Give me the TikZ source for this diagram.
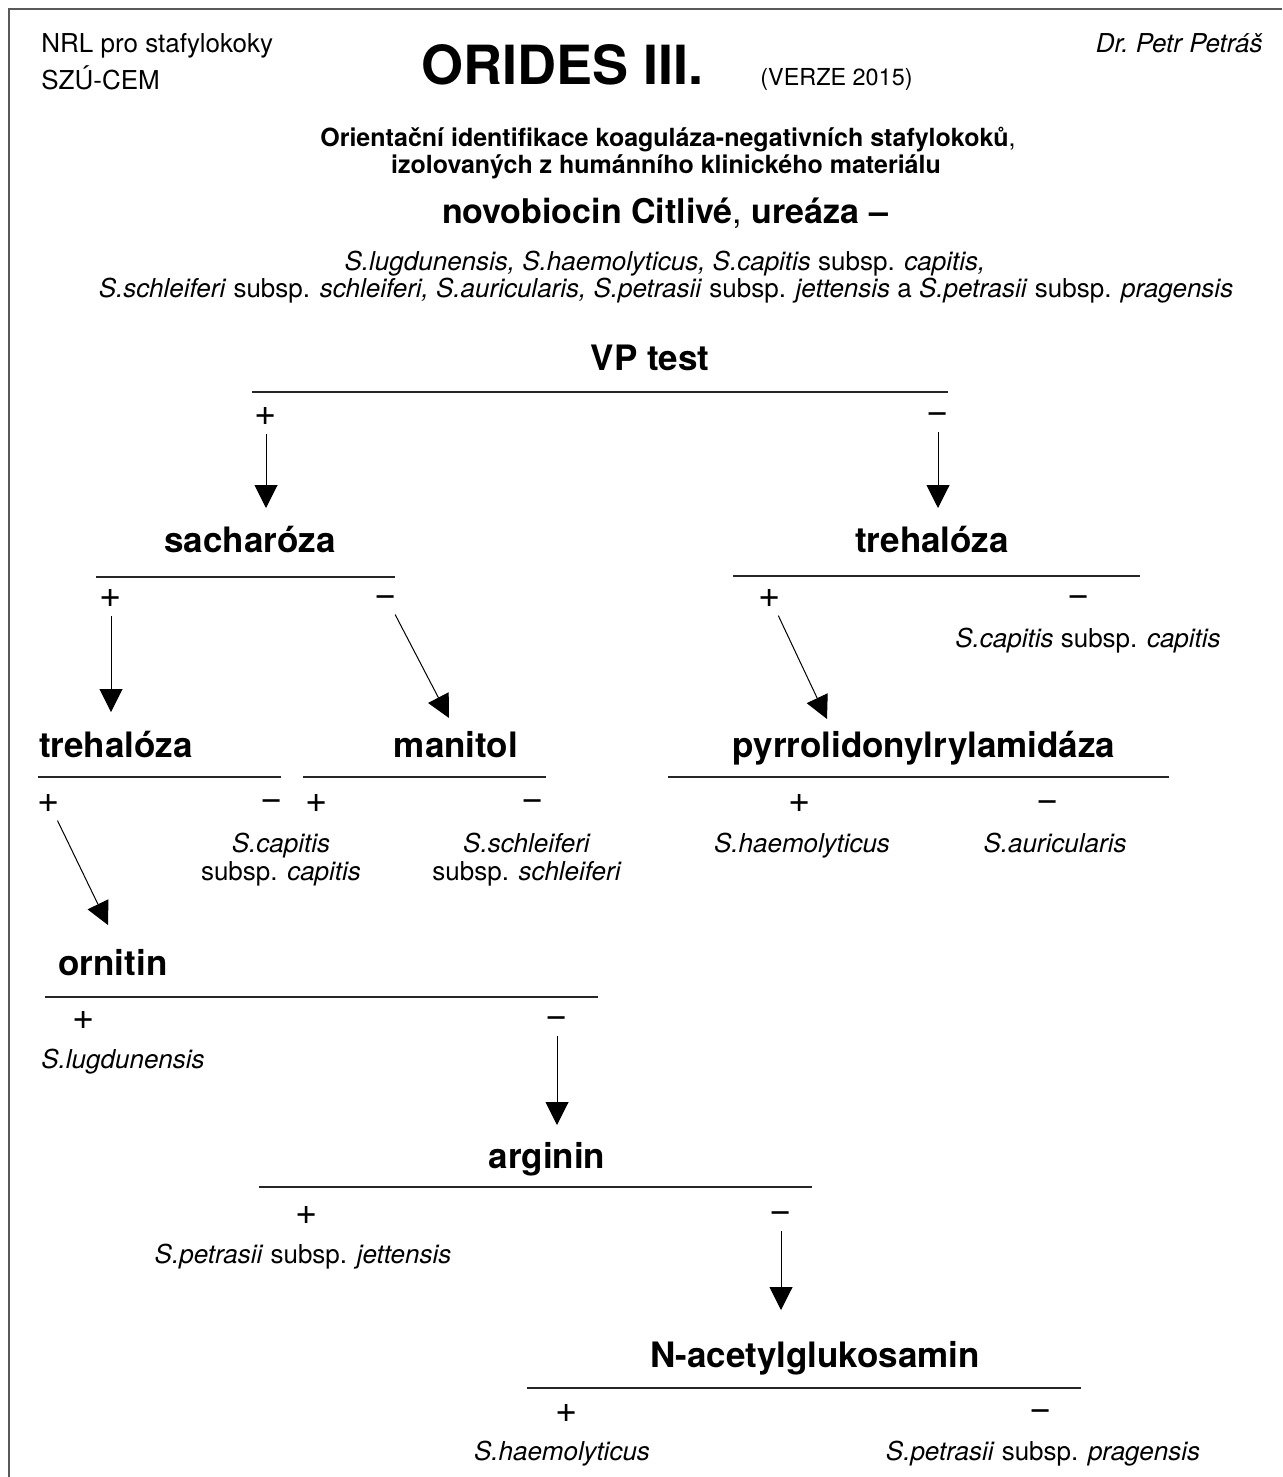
\documentclass[tikz,border=0pt]{standalone}
\usepackage{fontspec}
\setmainfont{TeX Gyre Heros}
\usetikzlibrary{arrows.meta}
\definecolor{FrameClr}{rgb}{0.35,0.35,0.35}
\definecolor{RuleClr}{rgb}{0.15,0.15,0.15}

\begin{document}
\begin{tikzpicture}[x=0.5pt,y=-0.5pt,
  txt/.style={font=\fontsize{13}{15}\selectfont,inner sep=0pt,anchor=base},
  test/.style={font=\fontsize{17.5}{21}\selectfont\bfseries,inner sep=0pt,anchor=base},
  sgn/.style={font=\fontsize{19}{21}\selectfont,inner sep=2pt,text height=9.6pt,text depth=0pt},
  rule/.style={line width=0.75pt,color=RuleClr},
  arr/.style={-{Triangle[length=11.5pt,width=11.5pt]},line width=0.5pt,shorten <=2pt}]
\useasboundingbox (0,0) rectangle (1282,1477);
\draw[line width=1.2pt,FrameClr] (9,1477) -- (9,9) -- (1282,9);

\node[txt,anchor=base west] (nrl) at (41,53) {NRL pro stafylokoky};
\node[txt,anchor=base west] (szu) at (41,90) {SZÚ-CEM};
\node[font=\fontsize{27}{30}\selectfont\bfseries,inner sep=0pt,anchor=base west] (title) at (421,85) {ORIDES III.};
\node[font=\fontsize{11.7}{14}\selectfont,inner sep=0pt,anchor=base west] (verze) at (760,86) {(VERZE 2015)};
\node[txt,anchor=base east] (autor) at (1263,53) {\textit{Dr.\ Petr Petráš}};

\node[txt,font=\fontsize{12.5}{15}\selectfont\bfseries] (sub1) at (668,147) {Orientační identifikace koaguláza-negativních stafylokoků{\mdseries,}};
\node[txt,font=\fontsize{12.5}{15}\selectfont\bfseries] (sub2) at (666,173) {izolovaných z humánního klinického materiálu};
\node[test,font=\fontsize{17}{21}\selectfont\bfseries] (novo) at (665,223) {novobiocin Citlivé{\mdseries,} ureáza –};
\node[txt] (druhy1) at (665,270) {\textit{S.lugdunensis, S.haemolyticus, S.capitis} subsp. \textit{capitis,}};
\node[txt] (druhy2) at (666,297) {\textit{S.schleiferi} subsp. \textit{schleiferi, S.auricularis, S.petrasii} subsp. \textit{jettensis} a \textit{S.petrasii} subsp. \textit{pragensis}};

\node[test] (vp) at (650,370) {VP test};
\draw[rule] (252,392) -- (948,392);
\node[sgn] (vpP) at (266,416) {+};
\node[sgn] (vpM) at (938,414) {−};

\node[test] (sach) at (250,552) {sacharóza};
\draw[rule] (96,577) -- (395,577);
\node[sgn] (sachP) at (111,598) {+};
\node[sgn] (sachM) at (386,597) {−};

\node[test] (treR) at (932,552) {trehalóza};
\draw[rule] (733,576) -- (1140,576);
\node[sgn] (treRP) at (770,598) {+};
\node[sgn] (treRM) at (1079,597) {−};
\node[txt] (capR) at (1088,647) {\textit{S.capitis} subsp. \textit{capitis}};

\node[test] (treL) at (116,757) {trehalóza};
\draw[rule] (38,777) -- (281,777);
\node[sgn] (treLP) at (49,803) {+};
\node[sgn] (treLM) at (272,801) {−};
\node[txt] (capL) at (281,852) {\textit{S.capitis}};
\node[txt] (capLb) at (281,880) {subsp. \textit{capitis}};

\node[test] (man) at (456,757) {manitol};
\draw[rule] (303,777) -- (546,777);
\node[sgn] (manP) at (317,803) {+};
\node[sgn] (manM) at (533,801) {−};
\node[txt] (schl) at (527,852) {\textit{S.schleiferi}};
\node[txt] (schlb) at (527,880) {subsp. \textit{schleiferi}};

\node[test] (pyr) at (924,757) {pyrrolidonylrylamidáza};
\draw[rule] (668,777) -- (1169,777);
\node[sgn] (pyrP) at (800,803) {+};
\node[sgn] (pyrM) at (1048,802) {−};
\node[txt] (haemA) at (802,852) {\textit{S.haemolyticus}};
\node[txt] (auri) at (1055,852) {\textit{S.auricularis}};

\node[test] (orn) at (113,975) {ornitin};
\draw[rule] (45,997) -- (598,997);
\node[sgn] (ornP) at (84,1020) {+};
\node[sgn] (ornM) at (557,1018) {−};
\node[txt,anchor=base west] (lugd) at (41,1068) {\textit{S.lugdunensis}};

\node[test] (arg) at (547,1168) {arginin};
\draw[rule] (259,1187) -- (812,1187);
\node[sgn] (argP) at (307,1215) {+};
\node[sgn] (argM) at (781,1213) {−};
\node[txt] (jett) at (303,1263) {\textit{S.petrasii} subsp. \textit{jettensis}};

\node[test] (nag) at (815,1367) {N-acetylglukosamin};
\draw[rule] (527,1388) -- (1081,1388);
\node[sgn] (nagP) at (567,1413) {+};
\node[sgn] (nagM) at (1041,1411) {−};
\node[txt] (haemB) at (562,1460) {\textit{S.haemolyticus}};
\node[txt] (prag) at (1043,1460) {\textit{S.petrasii} subsp. \textit{pragensis}};

\coordinate (sachIn) at (266,508);
\coordinate (treRIn) at (938,508);
\coordinate (treLIn) at (111,712);
\coordinate (manIn) at (449,718);
\coordinate (pyrIn) at (827,719);
\coordinate (ornIn) at (108,925);
\coordinate (argIn) at (557,1125);
\coordinate (nagIn) at (781,1310);

\draw[arr] (vpP) -- (sachIn);
\draw[arr] (vpM) -- (treRIn);
\draw[arr] (sachP) -- (treLIn);
\draw[arr] (sachM) -- (manIn);
\draw[arr] (treRP) -- (pyrIn);
\draw[arr] (treLP) -- (ornIn);
\draw[arr] (ornM) -- (argIn);
\draw[arr] (argM) -- (nagIn);

\end{tikzpicture}
\end{document}
